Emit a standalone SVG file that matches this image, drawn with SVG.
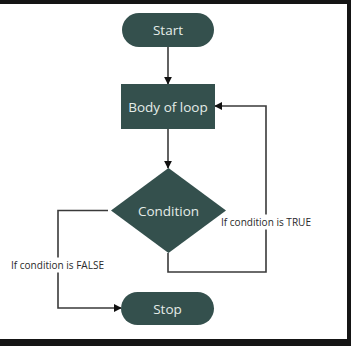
<svg xmlns="http://www.w3.org/2000/svg" width="351" height="346" viewBox="0 0 351 346">
  <style>
    .shape { fill: #34504d; }
    .title { font-family: "Open Sans", "Noto Sans", sans-serif; font-size: 13.5px; fill: #e4ece8; text-anchor: middle; }
    .note { font-family: "Open Sans", "Noto Sans", sans-serif; font-size: 10px; fill: #2a2a2a; }
    .wire { fill: none; stroke: #3a3a3a; stroke-width: 1.6; }
  </style>
  <defs>
    <marker id="arrow" viewBox="0 0 10 10" refX="9" refY="5" markerWidth="8" markerHeight="8" markerUnits="userSpaceOnUse" orient="auto">
      <path d="M0,0 L10,5 L0,10 z" fill="#111111"/>
    </marker>
  </defs>

  <!-- frame -->
  <rect x="0" y="0" width="351" height="346" fill="#ffffff"/>
  <rect x="0" y="0" width="351" height="4" fill="#151515"/>
  <rect x="347" y="0" width="4" height="346" fill="#151515"/>
  <rect x="0" y="339" width="351" height="7" fill="#151515"/>

  <g id="connectors">
    <line class="wire" x1="168" y1="47" x2="168" y2="84" marker-end="url(#arrow)"/>
    <line class="wire" x1="168" y1="129" x2="168" y2="168" marker-end="url(#arrow)"/>
    <polyline class="wire" points="108,210.5 58,210.5 58,308 121,308" marker-end="url(#arrow)"/>
    <polyline class="wire" points="168,253 168,272 266,272 266,106 215,106" marker-end="url(#arrow)"/>
  </g>

  <g id="label-true">
    <rect x="219" y="214.5" width="94" height="15" fill="#ffffff"/>
    <text class="note" x="221" y="225.5" textLength="90" lengthAdjust="spacingAndGlyphs">If condition is TRUE</text>
  </g>
  <g id="label-false">
    <rect x="9" y="257.5" width="97" height="15" fill="#ffffff"/>
    <text class="note" x="11" y="268.5" textLength="93" lengthAdjust="spacingAndGlyphs">If condition is FALSE</text>
  </g>

  <g id="start">
    <rect class="shape" x="122" y="13" width="92" height="34" rx="17"/>
    <text class="title" x="168" y="35">Start</text>
  </g>
  <g id="body">
    <rect class="shape" x="121" y="84" width="94" height="45"/>
    <text class="title" x="168" y="111.5">Body of loop</text>
  </g>
  <g id="condition">
    <polygon class="shape" points="168.5,168 226,210.5 168.5,253 111,210.5"/>
    <text class="title" x="168.5" y="215.5">Condition</text>
  </g>
  <g id="stop">
    <rect class="shape" x="121" y="292" width="93" height="33" rx="16.5"/>
    <text class="title" x="167.5" y="313.5">Stop</text>
  </g>
</svg>
